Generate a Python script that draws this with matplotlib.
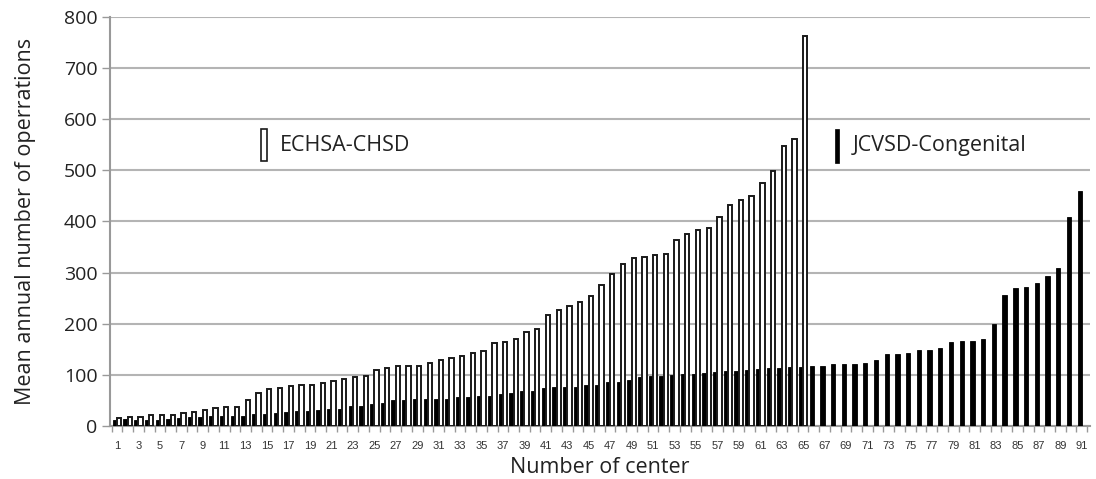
import numpy as np
import matplotlib
matplotlib.use("Agg")
import matplotlib.pyplot as plt
from matplotlib.patches import Rectangle

# =====================
# Data
# =====================
echsa = [15, 18, 18, 21, 21, 21, 25, 28, 31, 35,
         38, 38, 50, 65, 72, 75, 79, 81, 81, 85,
         88, 91, 95, 98, 110, 114, 118, 118, 118, 124,
         130, 134, 137, 143, 147, 162, 165, 171, 183, 189,
         217, 227, 235, 242, 254, 276, 297, 316, 328, 331,
         335, 337, 363, 376, 384, 388, 409, 432, 443, 450,
         475, 499, 548, 561, 762]

jcvsd = [12, 13, 12, 12, 12, 13, 15, 17, 17, 20,
         20, 20, 20, 23, 23, 25, 27, 30, 30, 32,
         33, 33, 39, 39, 43, 45, 50, 50, 53, 53,
         53, 53, 56, 56, 59, 59, 63, 65, 69, 69,
         74, 77, 77, 77, 80, 80, 87, 87, 90, 95,
         97, 98, 100, 101, 102, 104, 105, 107, 108, 110,
         111, 114, 114, 115, 115, 118, 118, 121, 121, 121,
         124, 130, 140, 140, 143, 149, 149, 152, 164, 167,
         167, 170, 199, 257, 269, 272, 279, 294, 309, 409,
         459]

echsa_label = "ECHSA-CHSD"
jcvsd_label = "JCVSD-Congenital"

x_e = np.arange(1, len(echsa) + 1)
x_j = np.arange(1, len(jcvsd) + 1)

# =====================
# Plot
# =====================
fig = plt.figure(figsize=(10.96, 4.79), dpi=100)
ax = fig.add_axes([0.1004, 0.1106, 0.894, 0.854])

w = 0.4
ax.bar(x_j - w / 2, jcvsd, width=w, color='black', edgecolor='black', linewidth=0.6, zorder=3)
ax.bar(x_e + w / 2, echsa, width=w, color='white', edgecolor='#1a1a1a', linewidth=1.4, zorder=3)

ax.set_xlim(0.35, 91.75)
ax.set_ylim(0, 800)
ax.set_yticks(np.arange(0, 801, 100))
ax.grid(axis='y', color='#b4b4b4', linewidth=1.5, zorder=0)

# x ticks: labels on odd centers, small tick marks between categories
ax.set_xticks(np.arange(1, len(jcvsd) + 1, 2))
ax.set_xticklabels([str(i) for i in range(1, len(jcvsd) + 1, 2)],
                   fontsize=8, family='Liberation Sans', color='#333333')
ax.set_xticks(np.arange(0.5, len(jcvsd) + 1, 1), minor=True)
ax.tick_params(axis='x', which='major', length=0, pad=11)
ax.tick_params(axis='x', which='minor', length=4, color='#999999', width=1)
ax.tick_params(axis='y', length=6, color='#999999', width=1, pad=3,
               labelsize=14, labelcolor='#222222')
for lbl in ax.get_yticklabels():
    lbl.set_family('Open Sans')

for s in ['top', 'right']:
    ax.spines[s].set_visible(False)
for s in ['left', 'bottom']:
    ax.spines[s].set_color('#999999')
    ax.spines[s].set_linewidth(1.5)

ax.set_ylabel('Mean annual number of operrations', fontsize=15.5,
              family='Open Sans', color='#222222', labelpad=20)
ax.set_xlabel('Number of center', fontsize=15.5, family='Open Sans',
              color='#222222', labelpad=4)

# custom legend markers
ax.add_patch(Rectangle((0.1545, 0.647), 0.0055, 0.078, transform=ax.transAxes,
                       facecolor='white', edgecolor='#1a1a1a', linewidth=1.2, zorder=4))
ax.text(0.1736, 0.685, echsa_label, transform=ax.transAxes, fontsize=15.5,
        family='Open Sans', color='#222222', va='center', ha='left')
ax.add_patch(Rectangle((0.7395, 0.643), 0.0045, 0.082, transform=ax.transAxes,
                       facecolor='black', edgecolor='black', linewidth=0.5, zorder=4))
ax.text(0.7578, 0.685, jcvsd_label, transform=ax.transAxes, fontsize=15.5,
        family='Open Sans', color='#222222', va='center', ha='left')

fig.savefig('out.png', dpi=100)
